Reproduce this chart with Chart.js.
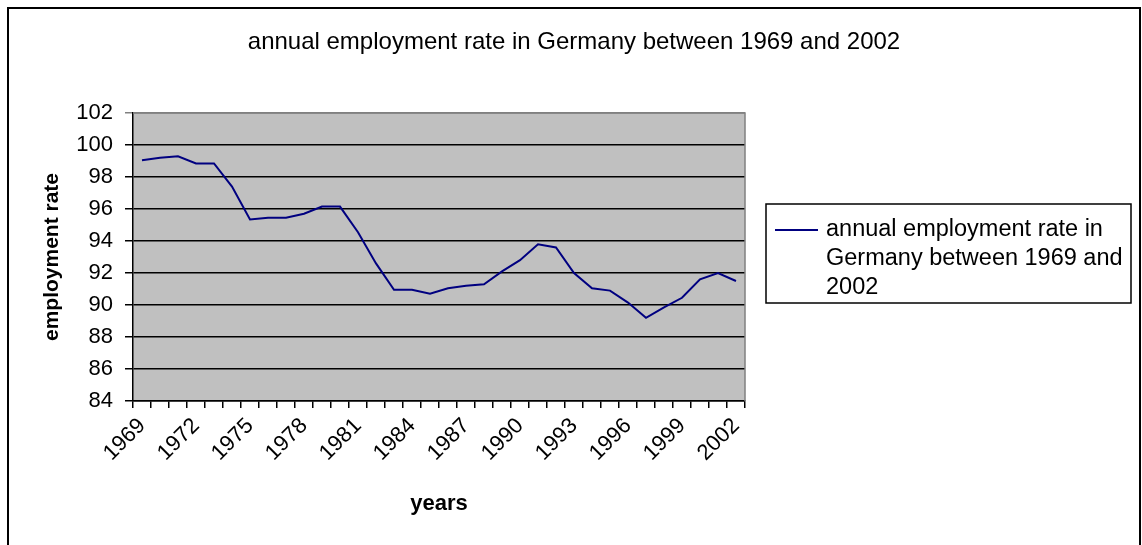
<!DOCTYPE html>
<html>
<head>
<meta charset="utf-8">
<script src="https://cdn.jsdelivr.net/npm/chart.js@4/dist/chart.umd.min.js"></script>
<style>
  html, body { margin: 0; padding: 0; background: #fff; }
  #wrap { width: 1142px; height: 545px; position: relative; }
</style>
</head>
<body>
<div id="wrap"><canvas id="chart" width="1142" height="545"></canvas></div>
<script>
const years = [
    1969, 1970, 1971, 1972, 1973, 1974, 1975, 1976, 1977, 1978, 1979, 1980,
    1981, 1982, 1983, 1984, 1985, 1986, 1987, 1988, 1989, 1990, 1991, 1992,
    1993, 1994, 1995, 1996, 1997, 1998, 1999, 2000, 2001, 2002,
];
const employmentRate = [
    99.05, 99.2, 99.3, 98.85, 98.85, 97.4, 95.35, 95.45, 95.45, 95.7, 96.15, 96.15,
    94.55, 92.6, 90.95, 90.95, 90.7, 91.05, 91.2, 91.3, 92.1, 92.8, 93.8, 93.6,
    92.0, 91.05, 90.9, 90.15, 89.2, 89.85, 90.45, 91.6, 92.0, 91.5,
];
const seriesLabel = 'annual employment rate in Germany between 1969 and 2002';
const chartTitle = 'annual employment rate in Germany between 1969 and 2002';
const yTitle = 'employment rate';
const xTitle = 'years';

const FONT = "'Liberation Sans', Arial, sans-serif";

// grey plot area with thin grey frame on top and right, like the old Excel look
const plotArea = {
    id: 'plotArea',
    beforeDraw(chart) {
        const { ctx, chartArea: a } = chart;
        ctx.save();
        ctx.fillStyle = '#c0c0c0';
        ctx.fillRect(a.left, a.top, a.right - a.left, a.bottom - a.top);
        ctx.restore();
    },
    beforeDatasetsDraw(chart) {
        const { ctx, chartArea: a } = chart;
        ctx.save();
        ctx.strokeStyle = '#808080';
        ctx.lineWidth = 1.5;
        ctx.beginPath();
        ctx.moveTo(a.left, a.top);
        ctx.lineTo(a.right, a.top);
        ctx.lineTo(a.right, a.bottom);
        ctx.stroke();
        ctx.restore();
    },
};

// outer frame, title centred on the whole canvas, boxed legend with wrapped text
const frameAndLegend = {
    id: 'frameAndLegend',
    afterDraw(chart) {
        const ctx = chart.ctx;
        ctx.save();
        ctx.strokeStyle = '#000';
        ctx.lineWidth = 2;
        ctx.strokeRect(8, 8, 1132, 600);

        ctx.fillStyle = '#000';
        ctx.font = '24px ' + FONT;
        ctx.textAlign = 'center';
        ctx.textBaseline = 'middle';
        ctx.fillText(chartTitle, 574, 42);

        const ds = chart.data.datasets[0];
        const box = { x: 766, y: 204, w: 365, h: 99 };
        ctx.lineWidth = 1.5;
        ctx.strokeRect(box.x, box.y, box.w, box.h);

        ctx.font = '23.5px ' + FONT;
        ctx.textAlign = 'left';
        const textX = 826;
        const maxW = 310;
        const words = ds.label.split(' ');
        const lines = [];
        let cur = '';
        words.forEach((w) => {
            const test = cur ? cur + ' ' + w : w;
            if (ctx.measureText(test).width > maxW && cur) {
                lines.push(cur);
                cur = w;
            } else {
                cur = test;
            }
        });
        if (cur) lines.push(cur);
        const lineH = 29;
        const firstY = 230;
        lines.forEach((ln, i) => ctx.fillText(ln, textX, firstY + i * lineH));

        ctx.strokeStyle = ds.borderColor;
        ctx.lineWidth = ds.borderWidth;
        ctx.beginPath();
        ctx.moveTo(775, firstY);
        ctx.lineTo(818, firstY);
        ctx.stroke();
        ctx.restore();
    },
};

new Chart(document.getElementById('chart'), {
    type: 'line',
    data: {
        labels: years.map(String),
        datasets: [
            {
                label: seriesLabel,
                data: employmentRate,
                borderColor: '#000080',
                borderWidth: 2,
                pointRadius: 0,
                tension: 0,
                fill: false,
            },
        ],
    },
    options: {
        responsive: false,
        animation: false,
        layout: { padding: { top: 113, left: 0, right: 397, bottom: 0 } },
        plugins: {
            legend: { display: false },
            tooltip: { enabled: false },
            title: { display: false },
        },
        scales: {
            x: {
                type: 'category',
                offset: true,
                afterFit: (scale) => { scale.height = 144; },
                grid: {
                    offset: true,
                    drawOnChartArea: false,
                    drawTicks: true,
                    tickLength: 7,
                    color: '#000',
                    lineWidth: 1.5,
                },
                border: { display: true, color: '#000', width: 1.5 },
                ticks: {
                    autoSkip: false,
                    minRotation: 45,
                    maxRotation: 45,
                    color: '#000',
                    padding: 5,
                    font: { family: FONT, size: 22 },
                    callback: (val, idx) => (idx % 3 === 0 ? years[idx] : ''),
                },
                title: {
                    display: true,
                    text: xTitle,
                    color: '#000',
                    font: { family: FONT, size: 22, weight: 'bold' },
                    padding: { top: 0, bottom: 28 },
                },
            },
            y: {
                min: 84,
                max: 102,
                afterFit: (scale) => { scale.width = 133; },
                grid: {
                    color: (c) => (c.tick && c.tick.value === 102 ? '#808080' : '#000'),
                    lineWidth: 1.5,
                    tickLength: 8,
                },
                border: { display: true, color: '#000', width: 1.5 },
                ticks: {
                    stepSize: 2,
                    color: '#000',
                    padding: 12,
                    font: { family: FONT, size: 22 },
                },
                title: {
                    display: true,
                    text: yTitle,
                    color: '#000',
                    font: { family: FONT, size: 21, weight: 'bold' },
                    padding: { top: 40, bottom: 0 },
                },
            },
        },
    },
    plugins: [plotArea, frameAndLegend],
});
</script>
</body>
</html>
